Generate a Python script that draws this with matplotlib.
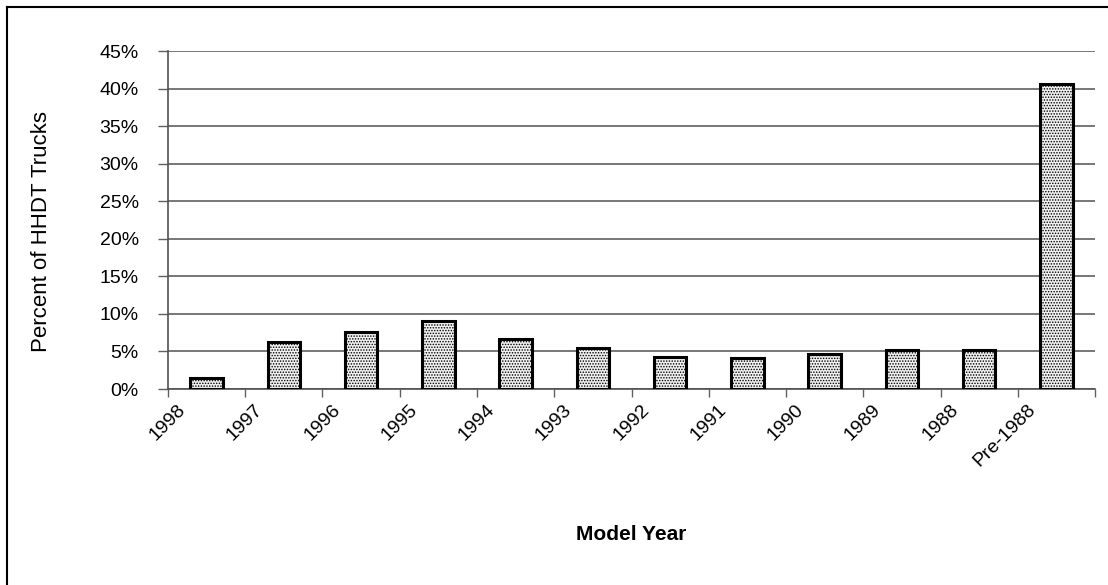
import matplotlib
matplotlib.use("Agg")
import matplotlib.pyplot as plt
from matplotlib.lines import Line2D
from matplotlib.transforms import ScaledTranslation

# Share of HHDT trucks by model year (percent)
years = ['1998', '1997', '1996', '1995', '1994', '1993',
         '1992', '1991', '1990', '1989', '1988', 'Pre-1988']
share = [1.5, 6.3, 7.6, 9.05, 6.6, 5.5, 4.2, 4.1, 4.7, 5.2, 5.2, 40.6]
yticks = [0, 5, 10, 15, 20, 25, 30, 35, 40, 45]

plt.rcParams['font.family'] = ['Liberation Sans', 'DejaVu Sans']
plt.rcParams['hatch.linewidth'] = 0.7

fig = plt.figure(figsize=(11.08, 5.85), dpi=100)
ax = fig.add_axes([0.1516, 0.335, 0.8367, 0.5778])

x = range(len(years))
ax.bar(x, share, width=0.42, facecolor='#f0f0f0', edgecolor='black',
       linewidth=2.2, hatch='......', zorder=3)

ax.set_xlim(-0.5, len(years) - 0.5)
ax.set_ylim(0, 45)

# y axis
ax.set_yticks(yticks)
ax.set_yticklabels([f'{v}%' for v in yticks], fontsize=14)
ax.tick_params(axis='y', length=7, width=1, color='#606060', pad=14)
ax.yaxis.grid(True, color='#606060', linewidth=1.2, zorder=0)

# x axis: ticks at category boundaries, labels at left boundary
bounds = [i - 0.5 for i in range(len(years) + 1)]
ax.set_xticks(bounds)
ax.set_xticklabels(years + [''], fontsize=14, rotation=45,
                   ha='right', va='center', rotation_mode='anchor')
ax.tick_params(axis='x', length=6, width=1, color='#606060', pad=7)
for lab in ax.get_xticklabels():
    lab.set_transform(lab.get_transform() + ScaledTranslation(0.15, 0, fig.dpi_scale_trans))

for side in ['top', 'right']:
    ax.spines[side].set_visible(False)
for side in ['left', 'bottom']:
    ax.spines[side].set_color('#505050')
    ax.spines[side].set_linewidth(1.2)

ax.set_ylabel('Percent of HHDT Trucks', fontsize=16)
ax.yaxis.set_label_coords(-0.125, 0.465)
fig.text(631 / 1108, 1 - 535 / 585, 'Model Year', fontsize=15,
         fontweight='bold', ha='center', va='center')

# outer frame (left and top edges visible)
fig.add_artist(Line2D([7 / 1108, 7 / 1108], [0, 1 - 7 / 585],
                      transform=fig.transFigure, color='black', linewidth=1.5))
fig.add_artist(Line2D([7 / 1108, 1], [1 - 7 / 585, 1 - 7 / 585],
                      transform=fig.transFigure, color='black', linewidth=1.5))

fig.savefig('out.png', dpi=100)
